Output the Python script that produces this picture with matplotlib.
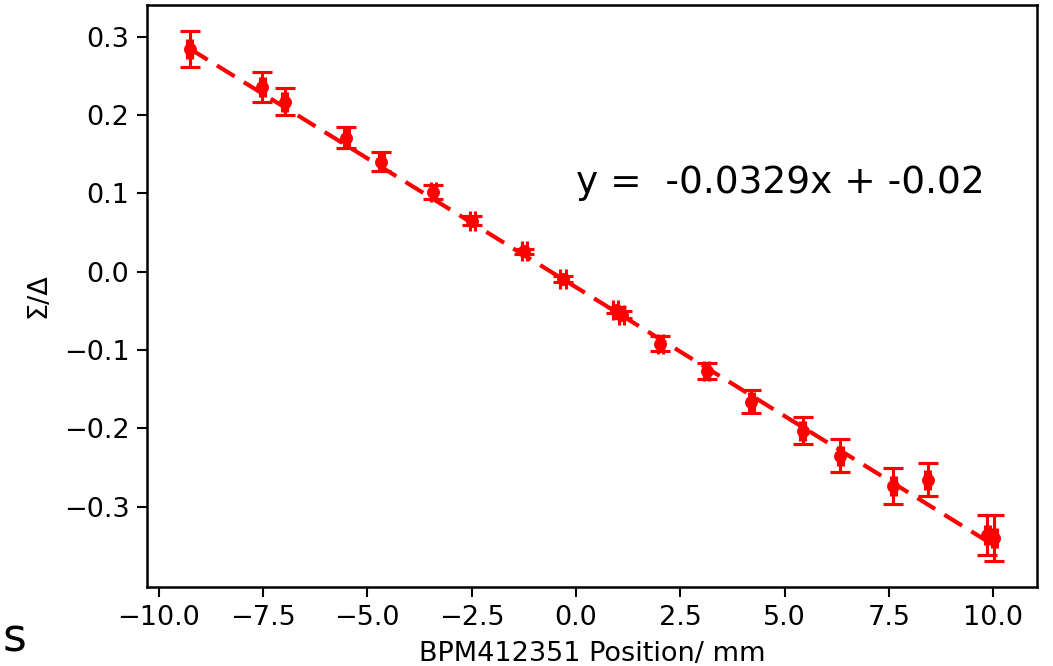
import numpy as np
import matplotlib
matplotlib.use("Agg")
import matplotlib.pyplot as plt

# Data
positions = [-9.25, -7.52, -6.98, -5.51, -4.67, -3.42, -2.48, -1.24, -0.31,
             0.95, 1.10, 2.02, 3.13, 4.20, 5.43, 6.34, 7.61, 8.43, 9.86, 10.02]
ratios = [0.284, 0.236, 0.217, 0.171, 0.140, 0.101, 0.065, 0.026, -0.010,
          -0.049, -0.055, -0.092, -0.127, -0.166, -0.203, -0.235, -0.274, -0.266, -0.336, -0.340]
ratio_err = [0.0225, 0.019, 0.0175, 0.013, 0.012, 0.009, 0.006, 0.003, 0.004,
             0.004, 0.004, 0.0095, 0.010, 0.015, 0.017, 0.021, 0.023, 0.021, 0.0255, 0.029]
pos_err = [0.06, 0.06, 0.06, 0.06, 0.06, 0.06, 0.06, 0.06, 0.06,
           0.06, 0.06, 0.06, 0.06, 0.06, 0.06, 0.06, 0.06, 0.06, 0.06, 0.06]
slope = -0.0329
intercept = -0.02
fit_label = "y =  -0.0329x + -0.02"
x_ticks = [-10.0, -7.5, -5.0, -2.5, 0.0, 2.5, 5.0, 7.5, 10.0]
y_ticks = [-0.3, -0.2, -0.1, 0.0, 0.1, 0.2, 0.3]

fig = plt.figure(figsize=(1053 / 150, 666 / 150), dpi=150)
ax = fig.add_axes([147 / 1053, 1 - 587 / 666, (1037 - 147) / 1053, (587 - 5) / 666])

ax.errorbar(positions, ratios, yerr=ratio_err, xerr=pos_err, fmt='o', color='red',
            ms=5.2, capsize=5, elinewidth=1.5, capthick=1.5)
xs = np.array(positions)
ax.plot(xs, slope * xs + intercept, color='red', lw=2.0, linestyle=(0, (5.0, 2.6)))

ax.text(0.0, 0.1, fit_label, fontsize=18)
ax.set_xlabel("BPM412351 Position/ mm", fontsize=13, labelpad=5)
ax.set_ylabel("Σ/Δ", fontsize=13, labelpad=6)
ax.set_xticks(x_ticks)
ax.set_yticks(y_ticks)
ax.tick_params(labelsize=13, length=5, width=1.0)
for s in ax.spines.values():
    s.set_linewidth(1.2)

fig.text(0.002, 0.022, "s", fontsize=22)

fig.savefig("out.png", dpi=150)
